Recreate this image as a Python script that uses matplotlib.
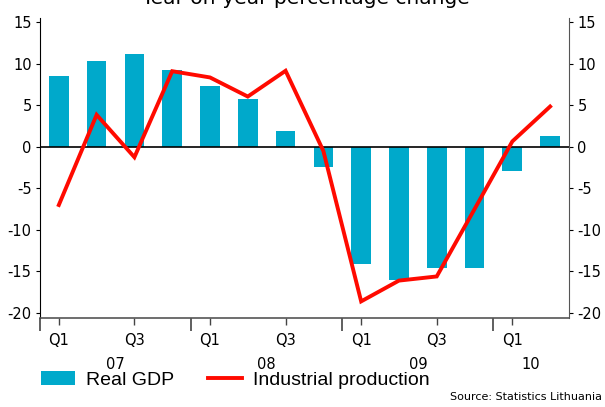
import numpy as np
import matplotlib
matplotlib.use("Agg")
from matplotlib import pyplot as plt
from matplotlib.transforms import blended_transform_factory

plt.rcParams["axes.unicode_minus"] = False

quarters = ["Q1", "Q2", "Q3", "Q4"] * 3 + ["Q1", "Q2"]
years = ["07", "08", "09", "10"]
gdp = [8.5, 10.3, 11.2, 9.2, 7.35, 5.7, 1.9, -2.4, -14.1, -16.0, -14.6, -14.6, -2.9, 1.3]
indprod = [-7.0, 3.85, -1.25, 9.1, 8.35, 6.05, 9.15, -0.5, -18.6, -16.1, -15.6, -7.5, 0.65, 4.85]

x = np.arange(len(gdp))

fig = plt.figure(figsize=(6.05, 4.07), dpi=100)
ax = fig.add_axes([0.066, 0.2187, 0.8745, 0.737])

bars = ax.bar(x, gdp, width=0.52, color="#00A9CB", label="Real GDP", zorder=2)
line, = ax.plot(x, indprod, color="#FF0A00", lw=2.8, label="Industrial production", zorder=4,
                solid_joinstyle="miter")
ax.axhline(0, color="black", lw=1.2, zorder=3)

ax.set_xlim(-0.5, len(gdp) - 0.5)
ax.set_ylim(-20.6, 15.5)
ax.set_yticks([15, 10, 5, 0, -5, -10, -15, -20])
ax.tick_params(axis="y", which="both", direction="out", length=3, labelsize=10.5,
               left=True, right=True, labelleft=True, labelright=True, pad=3)

# year separators (major) and quarter labels (minor)
ax.set_xticks([-0.5, 3.5, 7.5, 11.5])
ax.set_xticklabels([])
ax.tick_params(axis="x", which="major", length=9, width=1.2, color="#444444")
qpos = [i for i in x if quarters[i] in ("Q1", "Q3")]
ax.set_xticks(qpos, minor=True)
ax.set_xticklabels([quarters[i] for i in qpos], minor=True)
ax.tick_params(axis="x", which="minor", length=5, width=1, color="#444444",
               labelsize=10.5, pad=6)

# year labels centred under the quarters they cover
trans = blended_transform_factory(ax.transData, ax.transAxes)
for k, yr in enumerate(years):
    idx = x[4 * k:4 * k + 4]
    ax.text(idx.mean(), -0.155, yr, transform=trans, ha="center", va="center",
            fontsize=10.5)

ax.spines["top"].set_visible(False)
ax.spines["left"].set_color("black")
ax.spines["right"].set_color("#555555")
ax.spines["bottom"].set_color("#555555")
ax.spines["bottom"].set_linewidth(1.2)

fig.text(0.505, 0.99, "Year-on-year percentage change", ha="center", va="baseline",
         fontsize=14.5)

fig.legend([bars, line], ["Real GDP", "Industrial production"],
           loc="center left", bbox_to_anchor=(0.068, 0.066), ncol=2, frameon=False,
           borderpad=0, borderaxespad=0,
           prop={"family": "Liberation Sans", "size": 14}, handlelength=1.75,
           handletextpad=0.55, columnspacing=1.75)

fig.text(0.995, 0.012, "Source: Statistics Lithuania", ha="right", va="bottom", fontsize=8)

fig.savefig("out.png", dpi=100)
